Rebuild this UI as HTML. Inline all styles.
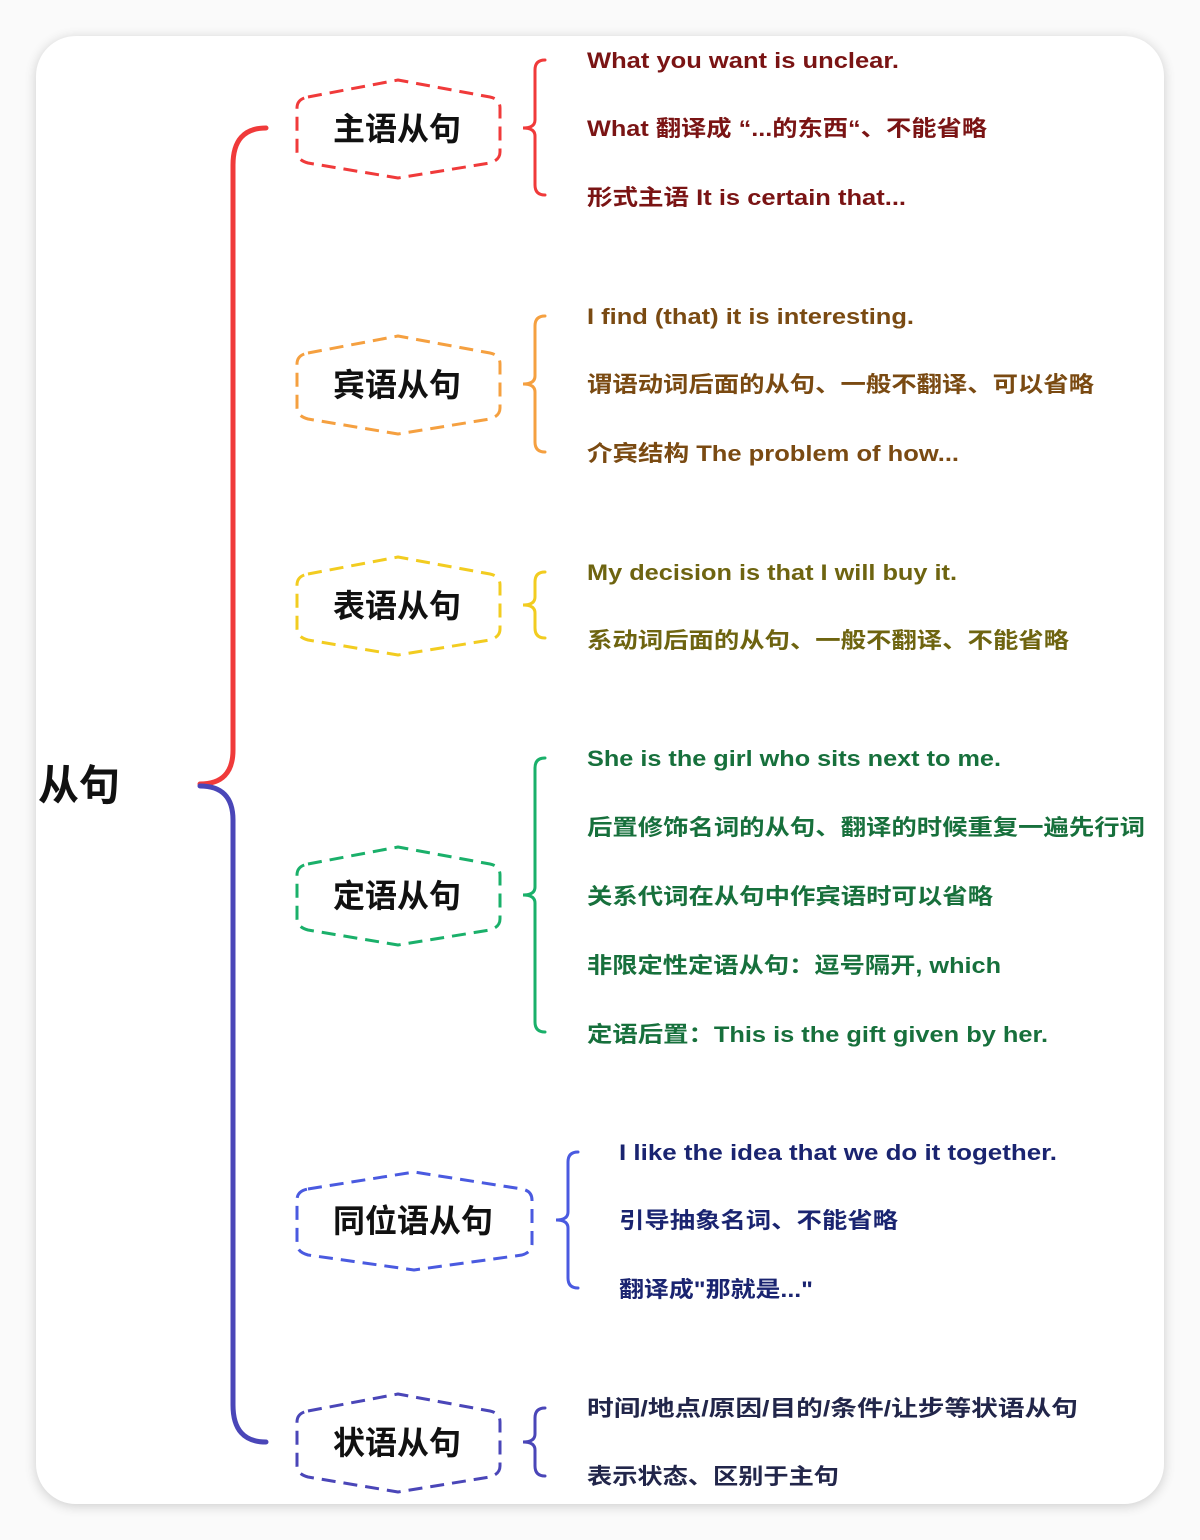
<!DOCTYPE html>
<html><head><meta charset="utf-8"><style>
html,body{margin:0;padding:0;background:#f4f4f4;}
svg{display:block;}
text{font-family:"Liberation Sans","Noto Sans CJK SC",sans-serif;font-weight:bold;}
</style></head><body>
<svg width="1200" height="1540" viewBox="0 0 1200 1540" xmlns="http://www.w3.org/2000/svg">
<defs><filter id="sh" x="-5%" y="-5%" width="110%" height="110%"><feGaussianBlur stdDeviation="6"/></filter></defs>
<rect x="0" y="0" width="1200" height="1540" fill="#fafafa"/>
<rect x="36" y="38" width="1128" height="1468" rx="40" fill="#000" opacity="0.18" filter="url(#sh)"/>
<rect x="36" y="36" width="1128" height="1468" rx="40" fill="#fff"/>

<text x="38" y="800" font-size="42" fill="#111" textLength="82" lengthAdjust="spacingAndGlyphs">从句</text>

<!-- main brace -->
<path d="M266,128 Q233,128 233,165 L233,750 Q233,784 200,784" fill="none" stroke="#f03a3a" stroke-width="5" stroke-linecap="round"/>
<path d="M200,786 Q233,786 233,820 L233,1405 Q233,1442 266,1442" fill="none" stroke="#4a46b8" stroke-width="5" stroke-linecap="round"/>

<g fill="none" stroke-width="3" stroke-dasharray="14,8" stroke-linejoin="round">
<path d="M308,97 L398,80 L490,97 Q500,99 500,108 L500,152 Q500,160 490,163 L398,178 L308,163 Q297,160 297,152 L297,108 Q297,99 308,97 Z" stroke="#f03a3a"/>
<path d="M308,353 L398,336 L490,353 Q500,355 500,364 L500,408 Q500,416 490,419 L398,434 L308,419 Q297,416 297,408 L297,364 Q297,355 308,353 Z" stroke="#f5a040"/>
<path d="M308,574 L398,557 L490,574 Q500,576 500,585 L500,629 Q500,637 490,640 L398,655 L308,640 Q297,637 297,629 L297,585 Q297,576 308,574 Z" stroke="#f2cc20"/>
<path d="M308,864 L398,847 L490,864 Q500,866 500,875 L500,919 Q500,927 490,930 L398,945 L308,930 Q297,927 297,919 L297,875 Q297,866 308,864 Z" stroke="#1ab06a"/>
<path d="M308,1189 L414,1172 L522,1189 Q532,1191 532,1200 L532,1244 Q532,1252 522,1255 L414,1270 L308,1255 Q297,1252 297,1244 L297,1200 Q297,1191 308,1189 Z" stroke="#4a5ae0"/>
<path d="M308,1411 L398,1394 L490,1411 Q500,1413 500,1422 L500,1466 Q500,1474 490,1477 L398,1492 L308,1477 Q297,1474 297,1466 L297,1422 Q297,1413 308,1411 Z" stroke="#4a46b8"/>
</g>
<g font-size="32" fill="#111">
<text x="333" y="140" textLength="128" lengthAdjust="spacingAndGlyphs">主语从句</text>
<text x="333" y="396" textLength="128" lengthAdjust="spacingAndGlyphs">宾语从句</text>
<text x="333" y="617" textLength="128" lengthAdjust="spacingAndGlyphs">表语从句</text>
<text x="333" y="907" textLength="128" lengthAdjust="spacingAndGlyphs">定语从句</text>
<text x="333" y="1232" textLength="160" lengthAdjust="spacingAndGlyphs">同位语从句</text>
<text x="333" y="1454" textLength="128" lengthAdjust="spacingAndGlyphs">状语从句</text>
</g>

<g fill="none" stroke-width="3" stroke-linecap="round">
<path d="M545,60 Q535,60 535,70 L535,120 Q535,128 523,128 Q535,128 535,136 L535,185 Q535,195 545,195" stroke="#f03a3a"/>
<path d="M545,316 Q535,316 535,326 L535,376 Q535,384 523,384 Q535,384 535,392 L535,442 Q535,452 545,452" stroke="#f5a040"/>
<path d="M545,572 Q535,572 535,582 L535,597 Q535,605 523,605 Q535,605 535,613 L535,628 Q535,638 545,638" stroke="#f2cc20"/>
<path d="M545,758 Q535,758 535,768 L535,887 Q535,895 523,895 Q535,895 535,903 L535,1022 Q535,1032 545,1032" stroke="#1ab06a"/>
<path d="M578,1152 Q568,1152 568,1162 L568,1212 Q568,1220 556,1220 Q568,1220 568,1228 L568,1278 Q568,1288 578,1288" stroke="#4a5ae0"/>
<path d="M545,1408 Q535,1408 535,1418 L535,1434 Q535,1442 523,1442 Q535,1442 535,1450 L535,1466 Q535,1476 545,1476" stroke="#4a46b8"/>
</g>

<g font-size="22">
<g fill="#7a1414">
<text x="587" y="68" textLength="312" lengthAdjust="spacingAndGlyphs">What you want is unclear.</text>
<text x="587" y="136" textLength="400" lengthAdjust="spacingAndGlyphs">What 翻译成 “...的东西“、不能省略</text>
<text x="587" y="205" textLength="319" lengthAdjust="spacingAndGlyphs">形式主语 It is certain that...</text>
</g>
<g fill="#7a4a12">
<text x="587" y="324" textLength="327" lengthAdjust="spacingAndGlyphs">I find (that) it is interesting.</text>
<text x="587" y="392" textLength="507" lengthAdjust="spacingAndGlyphs">谓语动词后面的从句、一般不翻译、可以省略</text>
<text x="587" y="461" textLength="372" lengthAdjust="spacingAndGlyphs">介宾结构 The problem of how...</text>
</g>
<g fill="#6e6410">
<text x="587" y="580" textLength="370" lengthAdjust="spacingAndGlyphs">My decision is that I will buy it.</text>
<text x="587" y="648" textLength="482" lengthAdjust="spacingAndGlyphs">系动词后面的从句、一般不翻译、不能省略</text>
</g>
<g fill="#17703c">
<text x="587" y="766" textLength="414" lengthAdjust="spacingAndGlyphs">She is the girl who sits next to me.</text>
<text x="587" y="835" textLength="558" lengthAdjust="spacingAndGlyphs">后置修饰名词的从句、翻译的时候重复一遍先行词</text>
<text x="587" y="904" textLength="406" lengthAdjust="spacingAndGlyphs">关系代词在从句中作宾语时可以省略</text>
<text x="587" y="973" textLength="414" lengthAdjust="spacingAndGlyphs">非限定性定语从句：逗号隔开, which</text>
<text x="587" y="1042" textLength="461" lengthAdjust="spacingAndGlyphs">定语后置：This is the gift given by her.</text>
</g>
<g fill="#1a2470">
<text x="619" y="1160" textLength="438" lengthAdjust="spacingAndGlyphs">I like the idea that we do it together.</text>
<text x="619" y="1228" textLength="279" lengthAdjust="spacingAndGlyphs">引导抽象名词、不能省略</text>
<text x="619" y="1297" textLength="194" lengthAdjust="spacingAndGlyphs">翻译成"那就是..."</text>
</g>
<g fill="#22264a">
<text x="587" y="1416" textLength="491" lengthAdjust="spacingAndGlyphs">时间/地点/原因/目的/条件/让步等状语从句</text>
<text x="587" y="1484" textLength="252" lengthAdjust="spacingAndGlyphs">表示状态、区别于主句</text>
</g>
</g>
</svg>
</body></html>
